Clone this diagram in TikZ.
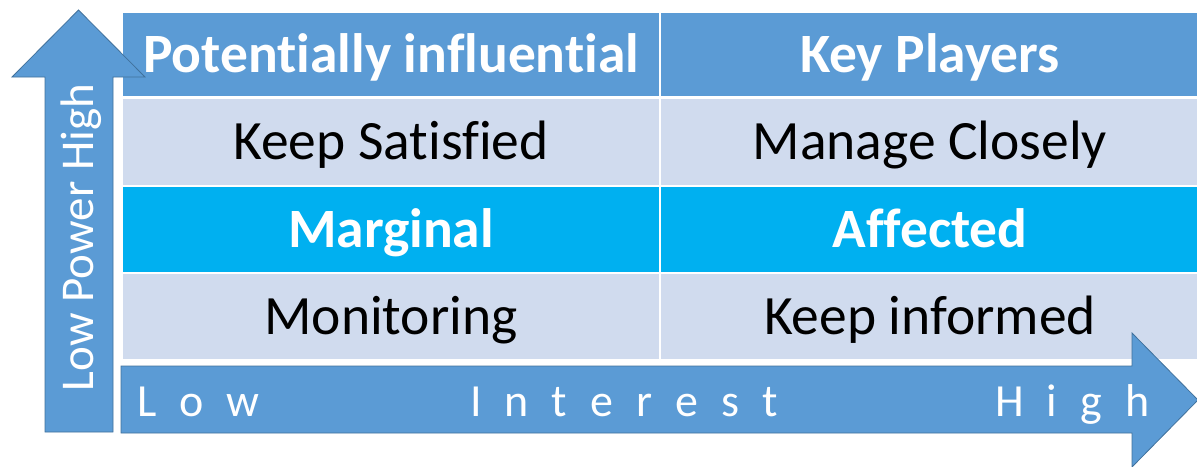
\documentclass[tikz,border=0pt]{standalone}
\usepackage{fontspec}
\setmainfont[Ligatures=NoCommon]{Carlito}
\definecolor{hdrblue}{HTML}{5B9BD5}
\definecolor{bandlight}{HTML}{D0DBEE}
\definecolor{bandcyan}{HTML}{00B0F0}
\definecolor{arrowline}{HTML}{41719C}
\tikzset{
  cell/.style={rectangle, draw=white, line width=1.2pt, inner sep=0pt,
    minimum width=#1, text height=35.5pt, text depth=0pt},
  cell/.default=538pt,
  hdrcell/.style={cell=#1, fill=hdrblue, text=white, font=\fontsize{55.5}{60}\selectfont\bfseries},
  lightcell/.style={cell=#1, fill=bandlight, text=black, font=\fontsize{55.5}{60}\selectfont},
  cyancell/.style={cell=#1, fill=bandcyan, text=white, font=\fontsize{55.5}{60}\selectfont\bfseries},
  axisarrow/.style={fill=hdrblue, draw=arrowline, line width=0.8pt, line join=miter},
  axislabel/.style={text=white, inner sep=0pt, font=\fontsize{46}{50}\selectfont},
}
\newcommand{\gapp}{\hspace{23pt}}
\begin{document}
\begin{tikzpicture}[x=1pt, y=-1pt]
  \useasboundingbox (0,0) rectangle (1197,466);

  % grid of cells: header, two bands per column
  \node[hdrcell=538pt, minimum height=85pt] (h1) at (391,54.5) {Potentially influential};
  \node[hdrcell=540pt, minimum height=85pt] (h2) at (930,54.5) {Key Players};
  \node[lightcell=538pt, minimum height=89pt] (r1a) at (391,141.5) {Keep Satisfied};
  \node[lightcell=540pt, minimum height=89pt] (r1b) at (930,141.5) {Manage Closely};
  \node[cyancell=538pt, minimum height=87pt] (r2a) at (391,229.5) {Marginal};
  \node[cyancell=540pt, minimum height=87pt] (r2b) at (930,229.5) {Affected};
  \node[lightcell=538pt, minimum height=87pt] (r3a) at (391,316.5) {Monitoring};
  \node[lightcell=540pt, minimum height=87pt] (r3b) at (930,316.5) {Keep informed};

  % thicker rule under the header row
  \draw[white, line width=3.5pt] (h1.south west) -- (h2.south east);

  % power axis
  \draw[axisarrow] (45,432) -- (45,77) -- (12,77) -- (78.5,10) -- (145,77)
    -- (113,77) -- (113,432) -- cycle;
  \node[axislabel, rotate=90, anchor=base, font=\fontsize{47}{50}\selectfont] (powerlbl) at (93,237.5) {Low Power High};

  % interest axis
  \draw[axisarrow] (121,366) -- (1132,366) -- (1132,333) -- (1198,400)
    -- (1132,467) -- (1132,433) -- (121,433) -- cycle;
  \node[axislabel, anchor=base west] (lowlbl) at (137,416) {L\gapp o\gapp w};
  \node[axislabel, anchor=base west] (intlbl) at (470,416)
    {I\gapp n\gapp t\gapp e\gapp r\gapp e\gapp s\gapp t};
  \node[axislabel, anchor=base west] (highlbl) at (995,416) {H\gapp i\gapp g\gapp h};
\end{tikzpicture}
\end{document}
